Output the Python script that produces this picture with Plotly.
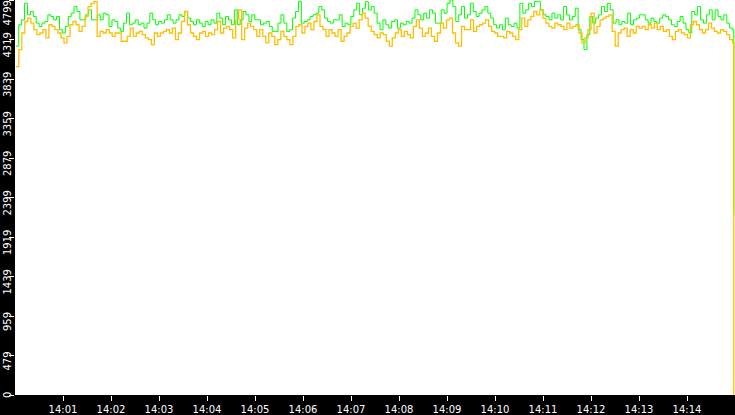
import pandas as pd
import plotly.graph_objects as go

# readings taken off the chart, left to right, roughly every 3-4 s
green_vals = [
    4238, 4498, 4558, 4759, 4619, 4659, 4599, 4518, 4478, 4518, 4538, 4619, 4599, 4558, 4599, 4438, 4398, 4478,
    4599, 4639, 4719, 4659, 4558, 4558, 4619, 4679, 4558, 4558, 4619, 4558, 4639, 4619, 4478, 4558, 4538, 4458,
    4418, 4518, 4639, 4498, 4518, 4558, 4498, 4518, 4458, 4518, 4639, 4558, 4498, 4538, 4518, 4558, 4619, 4558,
    4518, 4558, 4619, 4599, 4659, 4579, 4538, 4498, 4558, 4518, 4478, 4538, 4498, 4558, 4518, 4639, 4579, 4498, 4599,
    4558, 4498, 4679, 4498, 4558, 4659, 4619, 4538, 4619, 4558, 4558, 4498, 4518, 4538, 4478, 4418, 4418, 4518,
    4619, 4518, 4418, 4438, 4579, 4659, 4779, 4518, 4538, 4558, 4599, 4619, 4639, 4719, 4679, 4579, 4538, 4518, 4558,
    4558, 4619, 4478, 4518, 4498, 4599, 4679, 4759, 4619, 4699, 4779, 4679, 4719, 4639, 4518, 4438, 4558, 4498,
    4458, 4538, 4558, 4458, 4518, 4498, 4538, 4518, 4579, 4679, 4619, 4558, 4639, 4579, 4679, 4639, 4518,
    4518, 4679, 4639, 4759, 4799, 4719, 4538, 4619, 4719, 4579, 4619, 4759, 4659, 4599, 4639, 4679, 4719,
    4639, 4579, 4498, 4458, 4498, 4438, 4579, 4498, 4478, 4518, 4458, 4759, 4639, 4679, 4759, 4719, 4779,
    4779, 4679, 4619, 4599, 4558, 4639, 4579, 4619, 4558, 4719, 4619, 4558, 4599, 4699, 4438, 4318, 4197, 4378,
    4599, 4518, 4579, 4619, 4719, 4659, 4759, 4679, 4518, 4558, 4498, 4538, 4518, 4639, 4498, 4558, 4579, 4619,
    4619, 4558, 4518, 4579, 4538, 4518, 4579, 4619, 4599, 4558, 4498, 4478, 4538, 4599, 4518, 4438,
    4398, 4659, 4619, 4719, 4558, 4518, 4619, 4679, 4558, 4679, 4599, 4558, 4619, 4518, 4458, 4438,
]
orange_vals = [
    3990, 4197, 4398, 4538, 4579, 4518, 4438, 4378, 4398, 4438, 4338, 4498, 4478, 4438, 4398, 4338, 4278, 4358,
    4498, 4538, 4498, 4418, 4478, 4599, 4719, 4759, 4779, 4358, 4418, 4398, 4438, 4398, 4358, 4398, 4398, 4298,
    4298, 4358, 4458, 4358, 4398, 4418, 4378, 4338, 4318, 4258, 4398, 4358, 4398, 4418, 4438, 4398, 4458, 4318,
    4398, 4538, 4659, 4498, 4398, 4358, 4318, 4398, 4418, 4358, 4398, 4378, 4438, 4538, 4398, 4458, 4478,
    4438, 4338, 4558, 4679, 4318, 4458, 4518, 4478, 4438, 4358, 4438, 4358, 4278, 4398, 4358, 4258, 4318, 4418,
    4358, 4318, 4258, 4358, 4478, 4498, 4398, 4478, 4518, 4438, 4538, 4619, 4478, 4438, 4358, 4438, 4398,
    4358, 4438, 4298, 4358, 4398, 4478, 4518, 4458, 4558, 4639, 4579, 4478, 4418, 4378, 4338, 4398, 4378,
    4298, 4238, 4338, 4398, 4438, 4358, 4418, 4378, 4338, 4478, 4558, 4458, 4358, 4398, 4458, 4358, 4298,
    4398, 4518, 4458, 4558, 4579, 4398, 4278, 4238, 4478, 4438, 4438, 4558, 4418, 4478, 4498, 4518, 4558,
    4478, 4418, 4398, 4358, 4358, 4338, 4418, 4398, 4358, 4318, 4438, 4579, 4478, 4558, 4599, 4659, 4619,
    4679, 4579, 4518, 4478, 4458, 4518, 4498, 4478, 4438, 4518, 4458, 4478, 4498, 4398, 4278, 4338, 4438,
    4639, 4398, 4478, 4558, 4579, 4599, 4619, 4418, 4238, 4398, 4438, 4458, 4358, 4438, 4398, 4478, 4458,
    4478, 4438, 4498, 4458, 4518, 4438, 4478, 4418, 4438, 4358, 4318, 4418, 4438, 4398, 4378, 4338,
    4498, 4538, 4498, 4438, 4398, 4438, 4518, 4458, 4418, 4398, 4438, 4418, 4378, 4318, 4278,
]
# last sample, where both series fall away
green_last = 2180
orange_last = 0
last_time = "2024-05-14 14:14:58.5"

y_tick_vals = [0, 479.9, 959.8, 1439.7, 1919.6, 2399.5, 2879.4, 3359.3, 3839.2, 4319.1, 4799]
y_tick_text = ["0", "479", "959", "1439", "1919", "2399", "2879", "3359", "3839", "4319", "4799"]
x_tick_text = ["14:01", "14:02", "14:03", "14:04", "14:05", "14:06", "14:07",
               "14:08", "14:09", "14:10", "14:11", "14:12", "14:13", "14:14"]

day = "2024-05-14 "
t_green = list(pd.date_range(day + "14:00:01", day + "14:14:57", periods=len(green_vals))) + [pd.Timestamp(last_time)]
t_orange = list(pd.date_range(day + "14:00:01", day + "14:14:57", periods=len(orange_vals))) + [pd.Timestamp(last_time)]

fig = go.Figure()
fig.add_trace(go.Scatter(x=t_green, y=green_vals + [green_last], mode="lines",
                         line=dict(color="#00ff00", width=1, shape="hv"), hoverinfo="skip"))
fig.add_trace(go.Scatter(x=t_orange, y=orange_vals + [orange_last], mode="lines",
                         line=dict(color="#ffbf00", width=1.3, shape="hv"), hoverinfo="skip"))

# y labels: rotated, sitting just under their tick; end labels pushed inside
for v, txt in zip(y_tick_vals, y_tick_text):
    if v == 0:
        anchor, shift = "bottom", -4
    elif v == y_tick_vals[-1]:
        anchor, shift = "top", 0
    else:
        anchor, shift = "middle", -6
    fig.add_annotation(x=0, xref="paper", y=v, yref="y", text=txt, textangle=-90,
                       showarrow=False, xanchor="center", xshift=-8,
                       yanchor=anchor, yshift=shift,
                       font=dict(family="DejaVu Sans", size=10, color="white"),
                       borderpad=0)

fig.update_layout(
    width=735, height=415,
    margin=dict(l=15, r=0, t=0, b=16),
    paper_bgcolor="black", plot_bgcolor="white",
    showlegend=False,
    font=dict(family="DejaVu Sans", size=10, color="white"),
)
fig.update_xaxes(
    type="date",
    range=[day + "14:00:00", day + "14:15:00"],
    tickvals=[day + t + ":00" for t in x_tick_text], ticktext=x_tick_text,
    ticks="outside", ticklen=5, tickcolor="white", tickwidth=1,
    ticklabelstandoff=0,
    showgrid=False, zeroline=False, showline=False,
    tickfont=dict(family="DejaVu Sans", size=10, color="white"),
)
fig.update_yaxes(
    range=[0, 4799],
    tickvals=y_tick_vals, showticklabels=False,
    ticks="outside", ticklen=5, tickcolor="white", tickwidth=1,
    showgrid=False, zeroline=False, showline=False,
)

fig.write_html("out.html", config={"displayModeBar": False},
               post_script="document.body.style.margin='0';document.body.style.overflow='hidden';")
